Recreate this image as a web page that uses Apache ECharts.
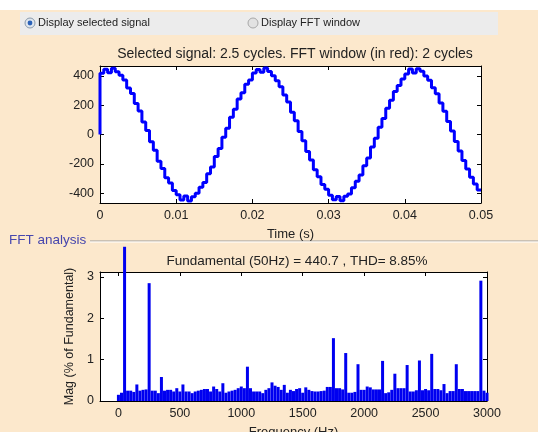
<!DOCTYPE html>
<html>
<head>
<meta charset="utf-8">
<script src="https://cdn.jsdelivr.net/npm/echarts@6/dist/echarts.min.js"></script>
<style>
  html, body { margin: 0; padding: 0; background: #fce8cc; }
  #chart { width: 538px; height: 432px; }
</style>
</head>
<body>
<div id="chart"></div>
<script>
// selected signal, sampled every 0.5 ms (s, V)
const timeS = [
  0, 0.0005, 0.001, 0.0015, 0.002, 0.0025, 0.003, 0.0035, 0.004, 0.0045,
  0.005, 0.0055, 0.006, 0.0065, 0.007, 0.0075, 0.008, 0.0085, 0.009, 0.0095,
  0.01, 0.0105, 0.011, 0.0115, 0.012, 0.0125, 0.013, 0.0135, 0.014, 0.0145,
  0.015, 0.0155, 0.016, 0.0165, 0.017, 0.0175, 0.018, 0.0185, 0.019, 0.0195,
  0.02, 0.0205, 0.021, 0.0215, 0.022, 0.0225, 0.023, 0.0235, 0.024, 0.0245,
  0.025, 0.0255, 0.026, 0.0265, 0.027, 0.0275, 0.028, 0.0285, 0.029, 0.0295,
  0.03, 0.0305, 0.031, 0.0315, 0.032, 0.0325, 0.033, 0.0335, 0.034, 0.0345,
  0.035, 0.0355, 0.036, 0.0365, 0.037, 0.0375, 0.038, 0.0385, 0.039, 0.0395,
  0.04, 0.0405, 0.041, 0.0415, 0.042, 0.0425, 0.043, 0.0435, 0.044, 0.0445,
  0.045, 0.0455, 0.046, 0.0465, 0.047, 0.0475, 0.048, 0.0485, 0.049, 0.0495,
  0.05
]
const signalV = [
  0, 418, 446, 422, 452, 428, 405, 372, 318, 280,
  212, 160, 86, 28, -50, -108, -182, -232, -296, -332,
  -382, -412, -448, -420, -455, -426, -402, -360, -328, -268,
  -222, -150, -95, -18, 42, 118, 172, 242, 286, 343,
  372, 420, 444, 425, 455, 430, 402, 368, 326, 270,
  222, 152, 94, 20, -42, -116, -174, -240, -288, -342,
  -374, -415, -445, -424, -452, -422, -406, -364, -320, -276,
  -214, -160, -86, -26, 50, 110, 180, 234, 294, 334,
  380, 414, 448, 420, 450, 432, 400, 370, 320, 278,
  216, 158, 88, 24, -48, -112, -178, -236, -292, -338,
  -380
]
const signalTicks = [-400, -200, 0, 200, 400]

// FFT spectrum, 25 Hz resolution (% of fundamental)
const freqHz = [
  0, 25, 50, 75, 100, 125, 150, 175, 200, 225,
  250, 275, 300, 325, 350, 375, 400, 425, 450, 475,
  500, 525, 550, 575, 600, 625, 650, 675, 700, 725,
  750, 775, 800, 825, 850, 875, 900, 925, 950, 975,
  1000, 1025, 1050, 1075, 1100, 1125, 1150, 1175, 1200, 1225,
  1250, 1275, 1300, 1325, 1350, 1375, 1400, 1425, 1450, 1475,
  1500, 1525, 1550, 1575, 1600, 1625, 1650, 1675, 1700, 1725,
  1750, 1775, 1800, 1825, 1850, 1875, 1900, 1925, 1950, 1975,
  2000, 2025, 2050, 2075, 2100, 2125, 2150, 2175, 2200, 2225,
  2250, 2275, 2300, 2325, 2350, 2375, 2400, 2425, 2450, 2475,
  2500, 2525, 2550, 2575, 2600, 2625, 2650, 2675, 2700, 2725,
  2750, 2775, 2800, 2825, 2850, 2875, 2900, 2925, 2950, 2975,
  3000
]
// the 50 Hz bar (100 %) runs off the axes; kept at its visible height
const magPct = [
  0.15, 0.2, 3.73, 0.25, 0.25, 0.22, 0.4, 0.25, 0.27, 0.28,
  2.85, 0.25, 0.25, 0.19, 0.58, 0.25, 0.27, 0.27, 0.23, 0.31,
  0.23, 0.4, 0.23, 0.23, 0.19, 0.23, 0.25, 0.27, 0.29, 0.29,
  0.23, 0.35, 0.29, 0.23, 0.43, 0.2, 0.23, 0.25, 0.27, 0.31,
  0.35, 0.31, 0.83, 0.31, 0.23, 0.23, 0.23, 0.19, 0.27, 0.31,
  0.45, 0.37, 0.34, 0.27, 0.39, 0.2, 0.27, 0.24, 0.29, 0.31,
  0.2, 0.33, 0.27, 0.24, 0.23, 0.23, 0.24, 0.25, 0.34, 0.34,
  1.52, 0.31, 0.31, 0.28, 1.16, 0.2, 0.2, 0.22, 0.89, 0.27,
  0.27, 0.35, 0.33, 0.28, 0.28, 0.28, 0.97, 0.19, 0.21, 0.27,
  0.66, 0.31, 0.31, 0.31, 0.87, 0.23, 0.23, 0.26, 0.98, 0.26,
  0.29, 0.26, 1.14, 0.29, 0.29, 0.26, 0.41, 0.19, 0.24, 0.24,
  0.89, 0.29, 0.29, 0.24, 0.24, 0.24, 0.24, 0.24, 2.91, 0.25,
  0.2
]
const magTicks = [0, 1, 2, 3]
const freqTicks = [0, 500, 1000, 1500, 2000, 2500, 3000]

const font = 'Liberation Sans, Arial, sans-serif'
const ink = '#222'
const chart = echarts.init(document.getElementById('chart'))

// MATLAB-style boxed axes: black line, ticks pointing inwards
function frameAxis(extra, ticks, labels) {
  const tick = { inside: true, length: 4, lineStyle: { color: '#000' } }
  const label = {
    show: labels !== false, color: ink, fontSize: 12.5, fontFamily: font, margin: 6,
    formatter: v => String(v)
  }
  if (ticks) {
    tick.customValues = ticks
    label.customValues = ticks
  }
  return Object.assign({
    type: 'value',
    splitLine: { show: false },
    axisLine: { onZero: false, lineStyle: { color: '#000', width: 1 } },
    axisTick: tick,
    axisLabel: label
  }, extra)
}
const nameStyle = { fontSize: 13, color: ink, fontFamily: font }

chart.setOption({
  backgroundColor: '#fce8cc',
  animation: false,
  textStyle: { fontFamily: font },
  title: [
    {
      text: 'Selected signal: 2.5 cycles. FFT window (in red): 2 cycles',
      left: 290, top: 42, textAlign: 'center',
      textStyle: { fontSize: 14, fontWeight: 'normal', color: ink, fontFamily: font }
    },
    {
      text: 'Fundamental (50Hz) = 440.7 , THD= 8.85%',
      left: 292, top: 249, textAlign: 'center',
      textStyle: { fontSize: 13.5, fontWeight: 'normal', color: ink, fontFamily: font }
    }
  ],
  graphic: [
    { type: 'rect', shape: { x: 0, y: 0, width: 538, height: 10 }, style: { fill: '#ffffff' }, z: -1 },
    { type: 'rect', shape: { x: 20, y: 12, width: 478, height: 23 }, style: { fill: '#ececec' } },
    { type: 'circle', shape: { cx: 30, cy: 23, r: 5 }, style: { fill: '#dfe6ee', stroke: '#8a9aab', lineWidth: 1 } },
    { type: 'circle', shape: { cx: 30, cy: 23, r: 2.4 }, style: { fill: '#2b62b8' } },
    { type: 'text', left: 38, top: 17, style: { text: 'Display selected signal', fontSize: 11, fill: ink, fontFamily: font } },
    { type: 'circle', shape: { cx: 253, cy: 23, r: 5 }, style: { fill: '#e2e2e2', stroke: '#a8a8a8', lineWidth: 1 } },
    { type: 'text', left: 261, top: 17, style: { text: 'Display FFT window', fontSize: 11, fill: ink, fontFamily: font } },
    { type: 'line', shape: { x1: 90, y1: 241, x2: 538, y2: 241 }, style: { stroke: '#9a9a9a', lineWidth: 1 } },
    { type: 'line', shape: { x1: 90, y1: 242, x2: 538, y2: 242 }, style: { stroke: '#ffffff', lineWidth: 1 } },
    { type: 'text', left: 9, top: 233, style: { text: 'FFT analysis', fontSize: 13.5, fill: '#4646ae', fontFamily: font } }
  ],
  grid: [
    { left: 100, top: 66, width: 381, height: 137, backgroundColor: '#fff', show: true, borderWidth: 0, outerBoundsMode: 'none' },
    { left: 100, top: 272, width: 387, height: 129, backgroundColor: '#fff', show: true, borderWidth: 0, outerBoundsMode: 'none' }
  ],
  xAxis: [
    frameAxis({
      gridIndex: 0, min: 0, max: 0.05, interval: 0.01,
      name: 'Time (s)', nameLocation: 'middle', nameGap: 25, nameTextStyle: nameStyle
    }),
    frameAxis({ gridIndex: 0, position: 'top', min: 0, max: 0.05, interval: 0.01 }, null, false),
    frameAxis({
      gridIndex: 1, min: -150, max: 3000,
      name: 'Frequency (Hz)', nameLocation: 'middle', nameGap: 25, nameTextStyle: nameStyle
    }, freqTicks),
    frameAxis({ gridIndex: 1, position: 'top', min: -150, max: 3000 }, freqTicks, false)
  ],
  yAxis: [
    frameAxis({ gridIndex: 0, min: -468, max: 468 }, signalTicks),
    frameAxis({ gridIndex: 0, position: 'right', min: -468, max: 468 }, signalTicks, false),
    frameAxis({
      gridIndex: 1, min: 0, max: 3.12,
      name: 'Mag (% of Fundamental)', nameLocation: 'middle', nameGap: 22, nameRotate: 90,
      nameTextStyle: { fontSize: 12.5, color: ink, fontFamily: font }
    }, magTicks),
    frameAxis({ gridIndex: 1, position: 'right', min: 0, max: 3.12 }, magTicks, false)
  ],
  series: [
    {
      type: 'line',
      xAxisIndex: 0, yAxisIndex: 0,
      step: 'start',
      symbol: 'none',
      lineStyle: { color: '#0000ff', width: 3 },
      data: timeS.map((t, i) => [t, signalV[i]])
    },
    {
      type: 'bar',
      xAxisIndex: 2, yAxisIndex: 2,
      barWidth: 3,
      clip: false,
      itemStyle: { color: '#0000f0' },
      data: freqHz.map((f, i) => [f, magPct[i]])
    }
  ]
})
</script>
</body>
</html>
